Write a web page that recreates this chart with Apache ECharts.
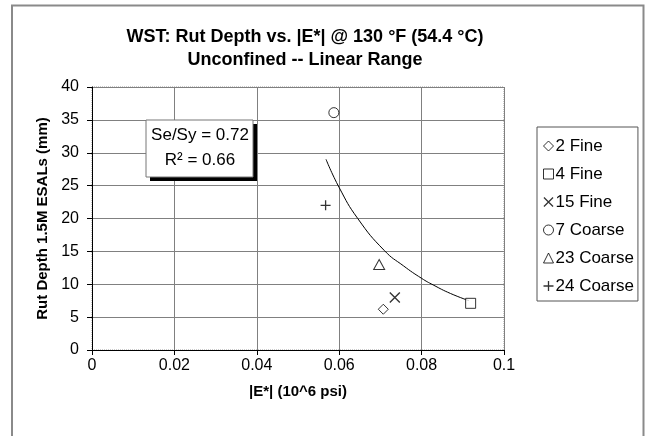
<!DOCTYPE html>
<html>
<head>
<meta charset="utf-8">
<script src="https://cdn.jsdelivr.net/npm/echarts@6/dist/echarts.min.js"></script>
<style>
  html, body { margin: 0; padding: 0; background: #fff; }
  #chart { width: 649px; height: 436px; }
</style>
</head>
<body>
<div id="chart"></div>
<script>
// Mixes and their measured stiffness / rut depth
const mixNames = ['2 Fine', '4 Fine', '15 Fine', '7 Coarse', '23 Coarse', '24 Coarse'];
const modulus = [0.0707, 0.0919, 0.0735, 0.0587, 0.0697, 0.0567];   // |E*| (10^6 psi)
const rutDepth = [6.2, 7.1, 8.0, 36.1, 13.0, 22.0];                  // mm at 1.5M ESALs

// Fitted trend curve, sampled along its length
const trendModulus = [0.0568, 0.0600, 0.0645, 0.0710, 0.0756, 0.0800, 0.0828, 0.0870, 0.0915];
const trendRut = [29.0, 24.7, 20.0, 15.1, 12.8, 10.9, 9.9, 8.6, 7.5];

// Axis ticks
const xTicks = [0, 0.02, 0.04, 0.06, 0.08, 0.1];
const yTicks = [0, 5, 10, 15, 20, 25, 30, 35, 40];

// Thin stroke-like marks drawn as filled outlines
const plusPath = 'path://M0,4.35H10V5.65H0ZM4.35,0H5.65V10H4.35Z';
const crossPath = 'path://M0,0.9L0.9,0L10,9.1L9.1,10ZM9.1,0L10,0.9L0.9,10L0,9.1Z';
const symbols = ['diamond', 'rect', crossPath, 'circle', 'triangle', plusPath];
const sizes = [[10, 10], [10, 10], [11, 11], [10, 10], [11, 10], [10, 10]];
const hollow = [true, true, false, true, true, false];

const font = 'Liberation Sans, Arial, sans-serif';

const markStyle = i => hollow[i]
  ? { color: '#fff', borderColor: '#000', borderWidth: 1 }
  : { color: '#000', borderColor: '#000', borderWidth: 0 };

const scatterSeries = mixNames.map((name, i) => ({
  name: name,
  type: 'scatter',
  symbol: symbols[i],
  symbolSize: sizes[i],
  symbolKeepAspect: true,
  itemStyle: markStyle(i),
  data: [[modulus[i], rutDepth[i]]],
  z: 5
}));

const chart = echarts.init(document.getElementById('chart'), null, { renderer: 'canvas' });
chart.setOption({
  animation: false,
  backgroundColor: '#fff',
  textStyle: { fontFamily: font },
  title: {
    text: 'WST: Rut Depth vs. |E*| @ 130 °F (54.4 °C)\nUnconfined -- Linear Range',
    left: 300,
    top: 21,
    textAlign: 'center',
    textStyle: { fontFamily: font, fontSize: 18, fontWeight: 'bold', color: '#000', lineHeight: 23 }
  },
  grid: {
    left: 92, right: 145, top: 87, bottom: 86,
    show: true, borderColor: '#999', borderWidth: 1, borderType: 'dotted'
  },
  legend: {
    orient: 'vertical',
    left: 537,
    top: 127,
    width: 103,
    padding: [10, 4, 6, 6],
    itemWidth: 10,
    itemHeight: 10,
    itemGap: 10,
    borderColor: '#555',
    borderWidth: 1,
    backgroundColor: '#fff',
    data: mixNames.map((name, i) => ({ name: name, itemStyle: markStyle(i) })),
    textStyle: { fontFamily: font, fontSize: 17, color: '#000', padding: [0, 0, 0, -3], lineHeight: 18 }
  },
  xAxis: {
    type: 'value',
    min: xTicks[0],
    max: xTicks[xTicks.length - 1],
    interval: xTicks[1] - xTicks[0],
    name: '|E*| (10^6 psi)',
    nameLocation: 'middle',
    nameGap: 34,
    nameTextStyle: { fontFamily: font, fontSize: 15, fontWeight: 'bold', color: '#000' },
    axisLine: { onZero: false, lineStyle: { color: '#000', width: 1 } },
    axisTick: { show: true, length: 5, lineStyle: { color: '#000' } },
    axisLabel: {
      margin: 8, fontFamily: font, fontSize: 16, color: '#000',
      formatter: v => String(+v.toFixed(2))
    },
    splitLine: { show: true, lineStyle: { color: '#808080', width: 1 } }
  },
  yAxis: {
    type: 'value',
    min: yTicks[0],
    max: yTicks[yTicks.length - 1],
    interval: yTicks[1] - yTicks[0],
    name: 'Rut Depth 1.5M ESALs (mm)',
    nameLocation: 'middle',
    nameGap: 42,
    nameTextStyle: { fontFamily: font, fontSize: 15, fontWeight: 'bold', color: '#000' },
    axisLine: { show: true, lineStyle: { color: '#000', width: 1 } },
    axisTick: { show: true, length: 5, lineStyle: { color: '#000' } },
    axisLabel: { margin: 13, fontFamily: font, fontSize: 16, color: '#000' },
    splitLine: { show: true, lineStyle: { color: '#808080', width: 1 } }
  },
  series: [
    {
      name: 'trend',
      type: 'line',
      smooth: true,
      showSymbol: false,
      silent: true,
      lineStyle: { color: '#000', width: 1 },
      data: trendModulus.map((x, i) => [x, trendRut[i]]),
      z: 4
    }
  ].concat(scatterSeries),
  graphic: [
    {
      type: 'rect',
      shape: { x: 12, y: 5.5, width: 631.5, height: 440 },
      style: { fill: 'none', stroke: '#8a8a8a', lineWidth: 2 },
      silent: true,
      z: 100
    },
    {
      type: 'rect', z: 50, silent: true,
      shape: { x: 150, y: 124, width: 107, height: 57 },
      style: { fill: '#000' }
    },
    {
      type: 'rect', z: 51, silent: true,
      shape: { x: 146, y: 120, width: 107, height: 57 },
      style: { fill: '#fff', stroke: '#777', lineWidth: 1 }
    },
    {
      type: 'text', z: 52, silent: true, x: 200, y: 135,
      style: { text: 'Se/Sy = 0.72', font: '17px ' + font, fill: '#000', textAlign: 'center', textVerticalAlign: 'middle' }
    },
    {
      type: 'text', z: 52, silent: true, x: 200, y: 160,
      style: { text: 'R² = 0.66', font: '17px ' + font, fill: '#000', textAlign: 'center', textVerticalAlign: 'middle' }
    }
  ]
});
</script>
</body>
</html>
